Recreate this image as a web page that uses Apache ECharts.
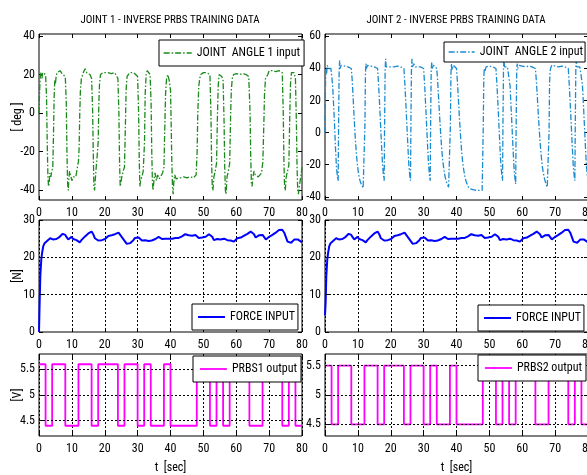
<!DOCTYPE html>
<html><head><meta charset="utf-8">
<script src="https://cdn.jsdelivr.net/npm/echarts@6/dist/echarts.min.js"></script>
<style>html,body{margin:0;padding:0;overflow:hidden;background:#fff}#c{width:600px;height:475px}</style>
</head><body><div id="c"></div><script>
function hasFont(f) {
  const ctx = document.createElement('canvas').getContext('2d');
  const s = 'JOINT ANGLE 1 input 0123456789 mmmwwwiii';
  ctx.font = '40px monospace';
  const a = ctx.measureText(s).width;
  ctx.font = "40px '" + f + "', monospace";
  return Math.abs(ctx.measureText(s).width - a) > 0.5;
}
const NARROW = ['Liberation Sans Narrow', 'Arial Narrow', 'Roboto Condensed'].find(hasFont);
const FONT = NARROW ? "'" + NARROW + "', sans-serif" : "'Liberation Sans', Arial, sans-serif";
const SZ = NARROW ? {title: 11, tick: 12, legend: 12, name: 12} : {title: 10, tick: 11, legend: 10, name: 11};

const titles = ['JOINT 1 - INVERSE PRBS TRAINING DATA', 'JOINT 2 - INVERSE PRBS TRAINING DATA'];
const angle1Ticks = [-40, -20, 0, 20, 40];
const angle2Ticks = [-40, -20, 0, 20, 40, 60];
const forceTicks = [0, 10, 20, 30];
const forceGridLines = [10, 20];
const prbsTicks = [4.5, 5, 5.5];

const angle1 = [[0,0],[0.2,12],[0.4,19],[0.6,21],[0.9,18],[1.1,21],[1.4,20],[1.7,21.5],[2.0,20],[2.3,8],[2.5,-15],[2.7,-32],[2.9,-38],[3.1,-36],[3.3,-31],[3.6,-33],[3.9,-30],[4.2,-28],[4.4,-12],[4.6,8],[4.8,17],[5.0,15],[5.2,19],[5.5,21],[6.0,20],[6.4,22],[6.8,21],[7.2,20],[7.6,21],[8.0,19],[8.3,5],[8.5,-20],[8.7,-36],[8.9,-40],[9.1,-34],[9.3,-30],[9.6,-32],[10.0,-35],[10.4,-33],[10.8,-34],[11.2,-33],[11.6,-32],[12.0,-25],[12.2,-18],[12.4,0],[12.6,12],[12.9,18],[13.2,17],[13.5,21],[14.0,23],[14.5,21],[15.0,22],[15.5,20],[16.0,18],[16.3,2],[16.5,-20],[16.7,-38],[16.9,-40],[17.1,-35],[17.4,-28],[17.7,-22],[18.0,-15],[18.2,5],[18.4,15],[18.7,20],[19.0,19],[19.5,21],[20.0,20.5],[21,21],[22,20.5],[23,21],[23.6,20],[24.0,18],[24.3,0],[24.5,-25],[24.7,-38],[24.9,-36],[25.2,-33],[25.6,-30],[26.0,-28],[26.3,-5],[26.5,12],[26.8,19],[27.2,18],[27.6,21],[28.2,20],[28.8,21],[29.4,20],[30.0,19],[30.3,0],[30.5,-25],[30.7,-38],[30.9,-35],[31.3,-33],[31.7,-30],[32.1,-15],[32.3,10],[32.6,20],[32.9,22],[33.3,21],[33.8,20],[34.1,5],[34.3,-20],[34.5,-36],[34.7,-40],[35.0,-34],[35.3,-31],[35.7,-35],[36.1,-32],[36.6,-34],[37.1,-33],[37.6,-31],[38.0,-28],[38.3,-5],[38.5,10],[38.8,18],[39.2,20],[39.6,17],[40.0,12],[40.2,-5],[40.4,-25],[40.6,-38],[40.8,-42],[41.0,-36],[41.3,-32],[41.7,-34],[42.2,-33],[43,-33.5],[44,-33],[45,-33.5],[46,-33],[47,-33.5],[47.8,-32],[48.1,-20],[48.3,0],[48.6,14],[48.9,18],[49.2,20],[49.6,19],[50.0,21],[50.5,22],[51.0,21],[51.5,22],[52.0,20],[52.3,0],[52.5,-25],[52.7,-38],[52.9,-40],[53.2,-33],[53.6,-30],[54.0,-26],[54.3,0],[54.5,14],[54.8,20],[55.2,21],[55.6,19],[56.0,17],[56.3,-5],[56.5,-28],[56.7,-40],[56.9,-42],[57.2,-33],[57.6,-30],[58.0,-26],[58.3,0],[58.5,12],[58.8,18],[59.2,20],[59.6,19],[60.0,20.5],[61,20],[62,20.5],[63,20],[63.8,19],[64.2,0],[64.4,-22],[64.6,-36],[64.8,-38],[65.1,-33],[65.4,-30],[65.8,-32],[66.2,-31],[66.7,-33],[67.2,-32],[67.7,-31],[68.1,-25],[68.4,-5],[68.6,10],[68.9,18],[69.2,17],[69.6,20],[70.0,22],[71,22],[72,21.5],[73,22],[74.0,21],[74.3,0],[74.5,-25],[74.7,-38],[74.9,-40],[75.2,-33],[75.6,-30],[76.0,-27],[76.3,0],[76.5,15],[76.8,21],[77.2,20],[77.6,21],[78.0,18],[78.3,-5],[78.5,-28],[78.7,-40],[78.9,-42],[79.2,-38],[79.6,-33],[80.0,-28]];

const angle2 = [[0,0],[0.15,30],[0.3,40],[0.5,37],[0.7,42],[1.0,40],[1.4,41],[1.8,40],[2.0,39],[2.3,30],[2.6,18],[2.9,5],[3.2,-10],[3.5,-22],[3.8,-28],[4.0,-30],[4.15,10],[4.3,38],[4.45,45],[4.6,40],[4.9,42],[5.3,41],[6,41.5],[7,41],[7.6,41],[8.0,40],[8.3,32],[8.6,20],[8.9,8],[9.2,-3],[9.5,-12],[9.8,-19],[10.1,-24],[10.4,-28],[10.8,-31],[11.2,-33],[11.6,-34.5],[12.0,-35],[12.15,5],[12.3,36],[12.45,43],[12.6,40],[12.9,42],[13.4,41],[14,41.5],[15,41],[16.0,40],[16.3,30],[16.6,18],[16.9,5],[17.2,-8],[17.5,-20],[17.8,-27],[18.0,-30],[18.15,10],[18.3,40],[18.45,46],[18.6,41],[19.0,42],[19.5,41],[20,41.5],[21,41],[22,41.5],[23,41],[24.0,40],[24.3,30],[24.6,18],[24.9,5],[25.2,-8],[25.5,-20],[25.8,-27],[26.0,-30],[26.15,10],[26.3,40],[26.45,46],[26.6,41],[27.0,43],[27.5,41],[28,41.5],[29,41],[30.0,40],[30.3,30],[30.6,18],[30.9,5],[31.2,-8],[31.5,-20],[31.8,-27],[32.0,-30],[32.15,10],[32.3,38],[32.45,44],[32.6,40],[33.0,42],[33.5,41],[34.0,40],[34.3,31],[34.6,20],[34.9,9],[35.2,-1],[35.5,-10],[35.8,-17],[36.1,-22],[36.4,-26],[36.8,-30],[37.2,-32],[37.6,-34],[38.0,-35],[38.15,5],[38.3,36],[38.45,43],[38.6,39],[39.0,42],[39.5,41],[40.0,40],[40.3,31],[40.6,20],[40.9,9],[41.2,-1],[41.5,-10],[41.8,-17],[42.1,-22],[42.5,-27],[43,-31],[43.5,-33.5],[44,-35],[45,-35.5],[46,-36],[47,-36],[47.8,-36],[48.0,-35],[48.15,5],[48.3,34],[48.45,40],[48.6,38],[49.0,41],[49.5,40],[50,41.5],[51,41],[52.0,40],[52.3,30],[52.6,18],[52.9,5],[53.2,-8],[53.5,-20],[53.8,-27],[54.0,-30],[54.15,10],[54.3,40],[54.45,46],[54.6,41],[55.0,42],[55.5,41],[56.0,40],[56.3,29],[56.6,16],[56.9,3],[57.2,-10],[57.5,-22],[57.8,-29],[58.0,-32],[58.15,5],[58.3,36],[58.45,43],[58.6,40],[59.0,42],[59.5,41],[60,41.5],[61,41],[62,41.5],[63,41],[64.0,40],[64.3,32],[64.6,22],[64.9,11],[65.2,1],[65.5,-8],[65.8,-15],[66.1,-21],[66.4,-25],[66.8,-29],[67.2,-32],[67.6,-34],[68.0,-35],[68.15,0],[68.3,30],[68.45,38],[68.6,40],[69.0,42],[69.5,41],[70,41.5],[71,41],[72,41.5],[73,41],[74.0,40],[74.3,30],[74.6,18],[74.9,5],[75.2,-8],[75.5,-20],[75.8,-27],[76.0,-30],[76.15,10],[76.3,40],[76.45,46],[76.6,41],[77.0,42],[77.5,41],[78.0,40],[78.3,30],[78.6,18],[78.9,5],[79.2,-8],[79.5,-20],[79.8,-27],[80.0,-30]];

const force1 = [[0,0],[0.2,8],[0.4,15],[0.7,19.5],[1.0,21.5],[1.3,23],[1.7,23.8],[2.0,23.5],[2.3,24.3],[2.7,24.6],[3.0,24.2],[3.4,25.1],[3.8,25.3],[4.2,24.8],[4.8,24.5],[5.3,24.9],[5.8,25.1],[6.3,25.5],[6.8,26.0],[7.2,26.3],[7.6,26.6],[8.0,26.0],[8.4,25.4],[8.9,24.8],[9.4,25.2],[9.9,25.5],[10.4,24.9],[10.9,25.1],[11.4,24.6],[11.9,24.3],[12.4,24.0],[12.9,24.6],[13.5,25.1],[14.0,25.6],[14.5,26.1],[15.0,26.4],[15.5,26.8],[16.0,26.9],[16.5,26.2],[17.0,25.1],[17.5,24.8],[18.0,24.5],[18.6,24.2],[19.1,24.6],[19.6,24.8],[20.1,24.9],[20.6,25.3],[21.1,25.7],[21.6,25.5],[22.1,25.9],[22.6,26.0],[23.1,26.2],[23.6,26.5],[24.2,26.6],[24.7,26.0],[25.2,25.5],[25.7,24.8],[26.2,24.2],[26.7,23.6],[27.2,23.5],[27.7,23.8],[28.2,24.2],[28.7,24.6],[29.2,25.2],[29.8,25.7],[30.3,25.3],[30.8,24.8],[31.3,24.5],[31.8,24.2],[32.3,24.6],[32.8,24.8],[33.3,24.4],[33.8,24.2],[34.3,24.5],[34.9,24.8],[35.4,24.9],[35.9,25.3],[36.4,25.5],[36.9,25.2],[37.4,24.9],[37.9,24.8],[38.4,25.0],[39.0,25.1],[39.5,25.0],[40.0,24.8],[40.5,25.0],[41.0,25.0],[41.5,25.2],[42.0,25.3],[42.5,25.2],[43.0,25.5],[43.5,25.6],[44.0,25.8],[44.5,26.2],[45.0,26.0],[45.5,25.9],[46.1,26.0],[46.6,25.8],[47.1,25.9],[47.6,26.0],[48.1,25.6],[48.6,25.2],[49.1,25.0],[49.6,25.3],[50.1,25.6],[50.7,25.5],[51.2,25.9],[51.7,26.2],[52.2,26.2],[52.7,25.5],[53.2,24.6],[53.7,24.5],[54.2,24.9],[54.7,24.6],[55.2,24.8],[55.7,24.6],[56.3,25.0],[56.8,24.8],[57.3,24.6],[57.8,24.9],[58.3,24.5],[58.8,24.3],[59.3,24.2],[59.8,24.6],[60.3,25.1],[60.9,25.5],[61.4,25.3],[61.9,25.6],[62.4,25.8],[62.9,26.0],[63.4,26.3],[63.9,26.5],[64.4,26.9],[64.9,27.1],[65.4,26.2],[65.9,25.3],[66.4,25.6],[66.9,25.9],[67.5,26.2],[68.0,26.0],[68.5,25.4],[69.0,24.8],[69.5,24.9],[70.0,25.5],[70.5,25.7],[71.0,26.0],[71.5,26.2],[72.0,26.6],[72.5,26.9],[73.0,27.3],[73.5,27.8],[74.0,27.4],[74.6,26.6],[75.1,25.4],[75.6,24.2],[76.1,23.8],[76.7,23.9],[77.2,24.4],[77.7,24.8],[78.2,24.6],[78.7,24.8],[79.2,24.6],[79.7,24.2],[80.0,24.0]];
const force2Start = [[0,4.5]];

const prbsSwitchTimes = [0,2,4,8,12,16,18,24,26,30,32,34,38,40,48,52,54,56,58,64,68,74,76,78,80];
const prbsStates =      [1,0,1,0,1,0,1,0,1,0,1,0,1,0,1,0,1,0,1,0,1,0,1,0,0];
const prbs1Levels = [4.4, 5.6];
const prbs2Levels = [4.5, 5.5];

const prbs1 = prbsSwitchTimes.map((t, i) => [t, prbs1Levels[prbsStates[i]]]);
const prbs2 = prbsSwitchTimes.map((t, i) => [t, prbs2Levels[prbsStates[i]]]);
const force2 = force2Start.concat(force1.slice(1));

const COLS = [{left: 39, width: 263}, {left: 325, width: 263}];
const ROWS = [{top: 34, height: 166}, {top: 220, height: 112}, {top: 354, height: 84}];

const panels = [
  {c:0, r:0, min:-45, max:41, ticks:angle1Ticks, hgrid:null, yName:'[ deg ]', data:angle1, name:'JOINT  ANGLE 1 input', color:'#1a8a1a', type:[6,2,1.5,2], w:1.3,
   lg:{left:159, top:40, pad:[7,4,7,4], iw:28}},
  {c:1, r:0, min:-42, max:61.5, ticks:angle2Ticks, hgrid:null, yName:'', data:angle2, name:'JOINT  ANGLE 2 input', color:'#1a8bd0', type:[6,2,1.5,2], w:1.3,
   lg:{left:444, top:42, pad:[4,2,4,4], iw:26}},
  {c:0, r:1, min:0, max:30, ticks:forceTicks, hgrid:forceGridLines, yName:'[N]', data:force1, name:'FORCE INPUT', color:'#0000ff', type:'solid', w:2,
   lg:{left:192, top:304, pad:[7,3,7,5], iw:27}},
  {c:1, r:1, min:0, max:30, ticks:forceTicks, hgrid:forceGridLines, yName:'', data:force2, name:'FORCE INPUT', color:'#0000ff', type:'solid', w:2,
   lg:{left:478, top:305, pad:[7,3,7,5], iw:27}},
  {c:0, r:2, min:4.2, max:5.8, ticks:prbsTicks, hgrid:prbsTicks, yName:'[V]', data:prbs1, name:'PRBS1 output', color:'#ff00ff', type:'solid', w:1.8, step:true, xName:'t  [sec]',
   lg:{left:193, top:356, pad:[7,4,7,6], iw:27}},
  {c:1, r:2, min:4.3, max:5.7, ticks:prbsTicks, hgrid:prbsTicks, yName:'', data:prbs2, name:'PRBS2 output', color:'#ff00ff', type:'solid', w:1.8, step:true, xName:'t  [sec]',
   lg:{left:478, top:355, pad:[7,4,7,6], iw:27}}
];

const txt = {color:'#000', fontFamily: FONT, fontSize: SZ.tick};
const nameTxt = {color:'#000', fontFamily: FONT, fontSize: SZ.name};
const grids = [], xAxes = [], yAxes = [], series = [], legends = [];
panels.forEach((p, i) => {
  grids.push({left: COLS[p.c].left, width: COLS[p.c].width, top: ROWS[p.r].top, height: ROWS[p.r].height,
    show: true, borderColor: '#000', borderWidth: 1, backgroundColor: '#fff', containLabel: false});
  xAxes.push({type:'value', gridIndex:i, min:0, max:80, interval:10,
    axisLine:{show:false, onZero:false}, axisTick:{inside:true, length:4, lineStyle:{color:'#000'}},
    axisLabel:Object.assign({margin:7}, txt),
    splitLine:{show:!!p.hgrid, lineStyle:{color:'#000', type:[2,2], width:1}},
    name: p.xName || '', nameLocation:'middle', nameGap:26, nameMoveOverlap:false, nameTextStyle: nameTxt});
  yAxes.push({type:'value', gridIndex:i, min:p.min, max:p.max,
    axisLine:{show:false, onZero:false}, axisTick:{inside:true, length:4, customValues:p.ticks, lineStyle:{color:'#000'}},
    axisLabel:Object.assign({margin:4, customValues:p.ticks}, txt),
    splitLine:{show:false},
    name:p.yName, nameLocation:'middle', nameGap:15, nameMoveOverlap:false, nameTextStyle: nameTxt});
  const s = {type:'line', name:p.name, xAxisIndex:i, yAxisIndex:i, data:p.data, symbol:'none', showSymbol:false,
    lineStyle:{color:p.color, width:p.w, type:p.type}, itemStyle:{color:p.color}};
  if (p.step) s.step = 'end';
  if (p.hgrid) {
    s.markLine = {silent:true, symbol:'none', label:{show:false}, animation:false,
      lineStyle:{color:'#000', type:[2,2], width:1},
      data: p.hgrid.map(v => ({yAxis: v}))};
  }
  series.push(s);
  legends.push({data:[p.name], left:p.lg.left, top:p.lg.top, padding:p.lg.pad, selectedMode:false,
    itemWidth:p.lg.iw, itemHeight:10, itemGap:4, borderColor:'#000', borderWidth:1, borderRadius:0, backgroundColor:'#fff',
    textStyle:{color:'#000', fontFamily:FONT, fontSize:SZ.legend},
    itemStyle:{color:'rgba(0,0,0,0)', borderWidth:0, opacity:0},
    lineStyle:{color:p.color, width:p.w, type:p.type}, z:10});
});
// mirrored ticks on the top and right borders (MATLAB box style)
panels.forEach((p, i) => {
  xAxes.push({type:'value', gridIndex:i, position:'top', min:0, max:80, interval:10,
    axisLine:{show:false, onZero:false}, axisTick:{inside:true, length:4, lineStyle:{color:'#000'}}, axisLabel:{show:false}, splitLine:{show:false}});
  yAxes.push({type:'value', gridIndex:i, position:'right', min:p.min, max:p.max,
    axisLine:{show:false, onZero:false}, axisTick:{inside:true, length:4, customValues:p.ticks, lineStyle:{color:'#000'}},
    axisLabel:{show:false, customValues:p.ticks}, splitLine:{show:false}});
});

const chart = echarts.init(document.getElementById('c'), null, {renderer:'canvas'});
chart.setOption({
  animation:false,
  backgroundColor:'#fff',
  title: titles.map((t, k) => ({text:t, left: COLS[k].left + 131, top:15, padding:0, textAlign:'center',
    textStyle:{fontFamily:FONT, fontSize:SZ.title, fontWeight:'normal', color:'#000'}})),
  grid: grids, xAxis: xAxes, yAxis: yAxes, series: series, legend: legends
});
</script></body></html>
